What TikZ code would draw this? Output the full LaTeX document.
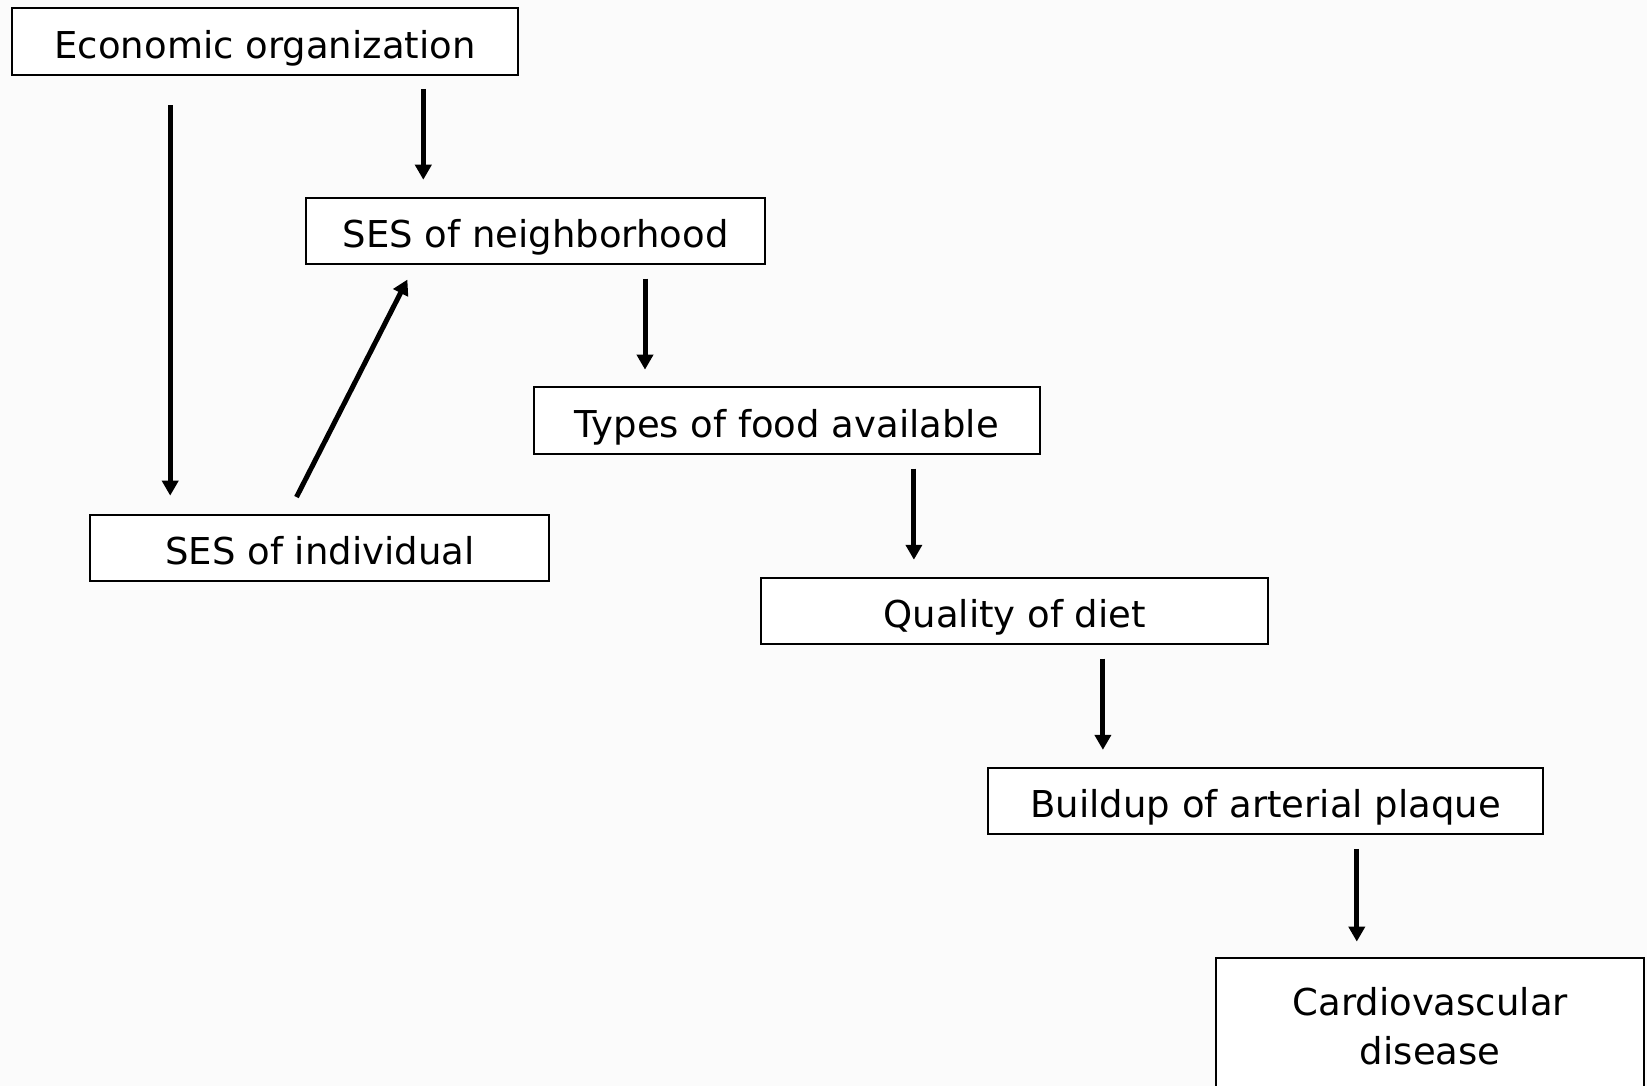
\documentclass[tikz,border=0pt]{standalone}
\usepackage{fontspec}
\setmainfont{DejaVu Sans}
\usetikzlibrary{arrows.meta,calc}
\definecolor{bgc}{HTML}{FBFBFB}
\begin{document}
\begin{tikzpicture}[x=1pt,y=-1pt,
  box/.style={draw=black,line width=2pt,fill=white,minimum height=66.5pt,inner sep=0pt,
    text height=50pt,text depth=16.5pt,font=\fontsize{37}{48.3}\selectfont,text=black},
  arr/.style={line width=5pt,-{Triangle[length=15pt,width=16pt]}}]
\fill[bgc] (0,0) rectangle (1647,1086);
\useasboundingbox (0,0) rectangle (1647,1086);
\node[box,minimum width=506.6pt] (econ) at (265,41.7) {Economic organization};
\node[box,minimum width=459pt] (neigh) at (535.5,230.8) {SES of neighborhood};
\node[box,minimum width=506.6pt] (types) at (786.8,420.7) {Types of food available};
\node[box,minimum width=459pt] (indiv) at (319.9,547.8) {SES of individual};
\node[box,minimum width=506.6pt] (quality) at (1014.7,610.8) {Quality of diet};
\node[box,minimum width=555pt] (buildup) at (1265.7,800.9) {Buildup of arterial plaque};
\node[box,minimum width=427.5pt,text width=427.5pt,align=center,anchor=north,
  text height=58pt,text depth=160pt] (cardio) at (1430.2,956.9) {Cardiovascular\\disease};
\draw[arr,shorten <=29.4pt,shorten >=17.9pt] (econ.south -| 170.2,0) -- (indiv.north -| 170.2,0);
\draw[arr,shorten <=13pt,shorten >=16.8pt] (econ.south -| 423.3,0) -- (neigh.north -| 423.3,0);
\draw[arr] ($(indiv.north -| 296.5,0)+(0,-16.5)$) -- ($(neigh.south -| 407.4,0)+(0,14.5)$);
\draw[arr,shorten <=13.6pt,shorten >=16.8pt] (neigh.south -| 645,0) -- (types.north -| 645,0);
\draw[arr,shorten <=13.6pt,shorten >=16.8pt] (types.south -| 913.9,0) -- (quality.north -| 913.9,0);
\draw[arr,shorten <=13.6pt,shorten >=16.8pt] (quality.south -| 1102.9,0) -- (buildup.north -| 1102.9,0);
\draw[arr,shorten <=13.6pt,shorten >=15.3pt] (buildup.south -| 1356.8,0) -- (cardio.north -| 1356.8,0);
\end{tikzpicture}
\end{document}
